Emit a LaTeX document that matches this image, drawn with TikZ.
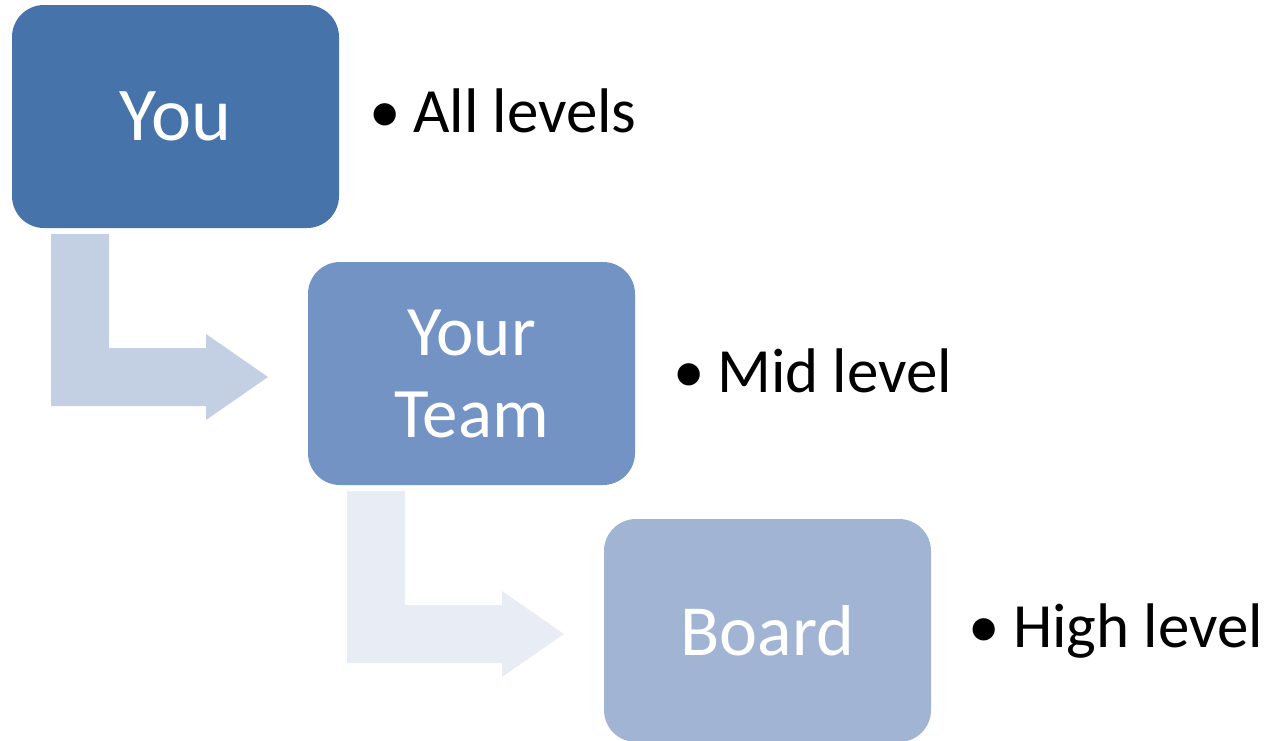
\documentclass[tikz,border=0pt]{standalone}
\usepackage{fontspec}
\setmainfont{Carlito}
\definecolor{boxA}{HTML}{4674AA}
\definecolor{boxB}{HTML}{7293C3}
\definecolor{boxC}{HTML}{A2B4D4}
\definecolor{arrowA}{HTML}{C3CFE2}
\definecolor{arrowB}{HTML}{E8EDF5}
\tikzset{
  levelbox/.style={rectangle, rounded corners=32pt, draw=none, inner sep=0pt,
    minimum width=327pt, minimum height=223pt, text=white, align=center},
  bullettext/.style={anchor=base west, inner sep=0pt, text=black,
    font=\fontsize{63}{72}\selectfont},
}
\newcommand{\bentarrow}[2]{%
  \fill[#2, shift={#1}] (51,234) -- (109,234) -- (109,348) -- (206,348) -- (206,334)
    -- (268,377) -- (206,420) -- (206,406) -- (51,406) -- cycle;}
\begin{document}
\begin{tikzpicture}[x=1pt, y=-1pt]
  \useasboundingbox (0,0) rectangle (1265,740);
  % bent arrows leading down to the next level
  \bentarrow{(0,0)}{arrowA}
  \bentarrow{(296,257)}{arrowB}
  % level boxes
  \node[levelbox, fill=boxA, font=\fontsize{76}{88}\selectfont] (you) at (175.5,116.5) {You};
  \node[levelbox, fill=boxB, font=\fontsize{71}{82}\selectfont] (team) at (471.5,373.5) {Your\\Team};
  \node[levelbox, fill=boxC, font=\fontsize{72}{82}\selectfont] (board) at (767.5,630.5) {Board};
  % bullet labels
  \node[bullettext] (youlvl) at (369,132) {\makebox[44pt][l]{\textbullet}All levels};
  \node[bullettext] (teamlvl) at (673,392) {\makebox[44pt][l]{\textbullet}Mid level};
  \node[bullettext] (boardlvl) at (968,647) {\makebox[45pt][l]{\textbullet}High level};
\end{tikzpicture}
\end{document}
